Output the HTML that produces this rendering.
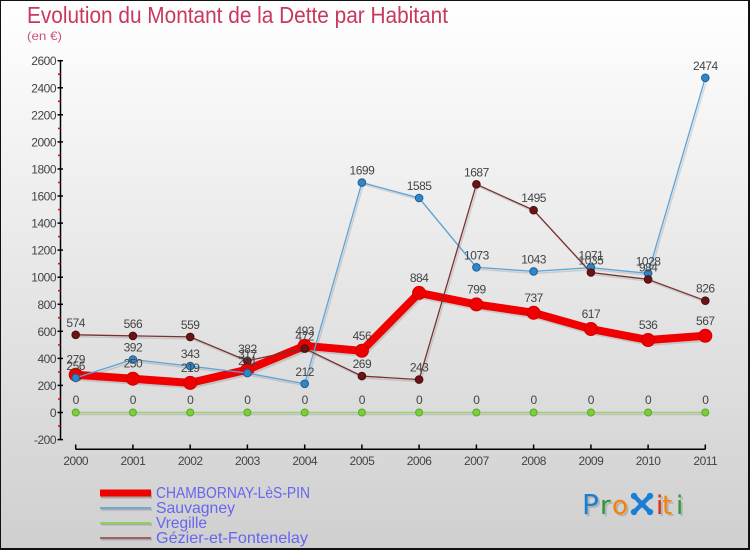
<!DOCTYPE html>
<html><head><meta charset="utf-8"><style>
html,body{margin:0;padding:0;}
body{width:750px;height:550px;overflow:hidden;}
svg{display:block;}
</style></head><body>
<svg width="750" height="550" viewBox="0 0 750 550" xmlns="http://www.w3.org/2000/svg" font-family="'Liberation Sans', sans-serif">
<defs>
<linearGradient id="bg" x1="0" y1="0" x2="0" y2="1">
<stop offset="0" stop-color="#ffffff"/>
<stop offset="1" stop-color="#cfcfcf"/>
</linearGradient>
</defs>
<rect x="0" y="0" width="750" height="550" fill="url(#bg)"/>
<rect x="0.5" y="0.5" width="748" height="548" fill="none" stroke="#111" stroke-width="1"/>
<line x1="749" y1="0" x2="749" y2="550" stroke="#111" stroke-width="2"/>
<line x1="0" y1="549" x2="750" y2="549" stroke="#111" stroke-width="2"/>

<!-- Title -->
<text x="27" y="23" font-size="23" fill="#c8385e" textLength="421" lengthAdjust="spacingAndGlyphs">Evolution du Montant de la Dette par Habitant</text>
<text x="27" y="40" font-size="12" fill="#d0507a" textLength="35" lengthAdjust="spacingAndGlyphs">(en €)</text>

<!-- Y axis -->
<g stroke="#000" stroke-width="1.5">
<line x1="60.5" y1="60" x2="60.5" y2="440"/>
<line x1="57.5" y1="60.7" x2="63" y2="60.7"/>
<line x1="57.5" y1="87.8" x2="63" y2="87.8"/>
<line x1="57.5" y1="114.8" x2="63" y2="114.8"/>
<line x1="57.5" y1="141.9" x2="63" y2="141.9"/>
<line x1="57.5" y1="169" x2="63" y2="169"/>
<line x1="57.5" y1="196" x2="63" y2="196"/>
<line x1="57.5" y1="223.1" x2="63" y2="223.1"/>
<line x1="57.5" y1="250.1" x2="63" y2="250.1"/>
<line x1="57.5" y1="277.2" x2="63" y2="277.2"/>
<line x1="57.5" y1="304.3" x2="63" y2="304.3"/>
<line x1="57.5" y1="331.3" x2="63" y2="331.3"/>
<line x1="57.5" y1="358.4" x2="63" y2="358.4"/>
<line x1="57.5" y1="385.4" x2="63" y2="385.4"/>
<line x1="57.5" y1="412.5" x2="63" y2="412.5"/>
<line x1="57.5" y1="439.6" x2="63" y2="439.6"/>
</g>
<g stroke="#e00" stroke-width="1.5">
<line x1="58" y1="74.2" x2="60.5" y2="74.2"/>
<line x1="58" y1="101.3" x2="60.5" y2="101.3"/>
<line x1="58" y1="128.4" x2="60.5" y2="128.4"/>
<line x1="58" y1="155.4" x2="60.5" y2="155.4"/>
<line x1="58" y1="182.5" x2="60.5" y2="182.5"/>
<line x1="58" y1="209.6" x2="60.5" y2="209.6"/>
<line x1="58" y1="236.6" x2="60.5" y2="236.6"/>
<line x1="58" y1="263.7" x2="60.5" y2="263.7"/>
<line x1="58" y1="290.7" x2="60.5" y2="290.7"/>
<line x1="58" y1="317.8" x2="60.5" y2="317.8"/>
<line x1="58" y1="344.9" x2="60.5" y2="344.9"/>
<line x1="58" y1="371.9" x2="60.5" y2="371.9"/>
<line x1="58" y1="399" x2="60.5" y2="399"/>
<line x1="58" y1="426" x2="60.5" y2="426"/>
</g>
<g font-size="12" fill="#444" text-anchor="end" letter-spacing="-0.5">
<text x="56" y="65.2">2600</text>
<text x="56" y="92.3">2400</text>
<text x="56" y="119.3">2200</text>
<text x="56" y="146.4">2000</text>
<text x="56" y="173.5">1800</text>
<text x="56" y="200.5">1600</text>
<text x="56" y="227.6">1400</text>
<text x="56" y="254.6">1200</text>
<text x="56" y="281.7">1000</text>
<text x="56" y="308.8">800</text>
<text x="56" y="335.8">600</text>
<text x="56" y="362.9">400</text>
<text x="56" y="389.9">200</text>
<text x="56" y="417">0</text>
<text x="56" y="444.1">-200</text>
</g>

<!-- X axis -->
<g stroke="#000" stroke-width="1.5">
<line x1="75.7" y1="449.3" x2="705.3" y2="449.3"/>
<line x1="75.7" y1="444.5" x2="75.7" y2="449.3"/>
<line x1="132.9" y1="444.5" x2="132.9" y2="449.3"/>
<line x1="190.2" y1="444.5" x2="190.2" y2="449.3"/>
<line x1="247.4" y1="444.5" x2="247.4" y2="449.3"/>
<line x1="304.7" y1="444.5" x2="304.7" y2="449.3"/>
<line x1="361.9" y1="444.5" x2="361.9" y2="449.3"/>
<line x1="419.1" y1="444.5" x2="419.1" y2="449.3"/>
<line x1="476.4" y1="444.5" x2="476.4" y2="449.3"/>
<line x1="533.6" y1="444.5" x2="533.6" y2="449.3"/>
<line x1="590.9" y1="444.5" x2="590.9" y2="449.3"/>
<line x1="648.1" y1="444.5" x2="648.1" y2="449.3"/>
<line x1="705.3" y1="444.5" x2="705.3" y2="449.3"/>
</g>
<g font-size="12" fill="#444" text-anchor="middle" letter-spacing="-0.5">
<text x="75.7" y="465">2000</text>
<text x="132.9" y="465">2001</text>
<text x="190.2" y="465">2002</text>
<text x="247.4" y="465">2003</text>
<text x="304.7" y="465">2004</text>
<text x="361.9" y="465">2005</text>
<text x="419.1" y="465">2006</text>
<text x="476.4" y="465">2007</text>
<text x="533.6" y="465">2008</text>
<text x="590.9" y="465">2009</text>
<text x="648.1" y="465">2010</text>
<text x="705.3" y="465">2011</text>
</g>

<!-- shadows -->
<g fill="none" stroke="#000" stroke-opacity="0.12" stroke-linejoin="round" transform="translate(1.5,2)">
<polyline stroke-width="8" points="75.7,374.7 132.9,378.7 190.2,382.9 247.4,369.6 304.7,345.8 361.9,350.8 419.1,292.9 476.4,304.4 533.6,312.8 590.9,329 648.1,340 705.3,335.8"/>
<polyline stroke-width="1.5" points="75.7,377.9 132.9,359.5 190.2,366.1 247.4,373.1 304.7,383.8 361.9,182.6 419.1,198 476.4,267.3 533.6,271.4 590.9,267.6 648.1,273.4 705.3,77.8"/>
<polyline stroke-width="1.5" points="75.7,334.8 132.9,335.9 190.2,336.9 247.4,360.8 304.7,348.6 361.9,376.1 419.1,379.6 476.4,184.3 533.6,210.2 590.9,272.5 648.1,279.4 705.3,300.7"/>
<polyline stroke-width="1.5" points="75.7,412.5 705.3,412.5"/>
</g>

<!-- CHAMBORNAY -->
<polyline fill="none" stroke="#f00000" stroke-width="8" stroke-linejoin="round" points="75.7,374.7 132.9,378.7 190.2,382.9 247.4,369.6 304.7,345.8 361.9,350.8 419.1,292.9 476.4,304.4 533.6,312.8 590.9,329 648.1,340 705.3,335.8"/>
<g fill="#ee0000" stroke="#d00000" stroke-width="1">
<circle cx="75.7" cy="374.7" r="6.5"/><circle cx="132.9" cy="378.7" r="6.5"/><circle cx="190.2" cy="382.9" r="6.5"/><circle cx="247.4" cy="369.6" r="6.5"/><circle cx="304.7" cy="345.8" r="6.5"/><circle cx="361.9" cy="350.8" r="6.5"/><circle cx="419.1" cy="292.9" r="6.5"/><circle cx="476.4" cy="304.4" r="6.5"/><circle cx="533.6" cy="312.8" r="6.5"/><circle cx="590.9" cy="329" r="6.5"/><circle cx="648.1" cy="340" r="6.5"/><circle cx="705.3" cy="335.8" r="6.5"/>
</g>

<!-- Vregille -->
<line x1="75.7" y1="412.5" x2="705.3" y2="412.5" stroke="#99d070" stroke-width="1.5"/>
<g fill="#7ccf3a" stroke="#5aa82a" stroke-width="1">
<circle cx="75.7" cy="412.5" r="3.5"/><circle cx="132.9" cy="412.5" r="3.5"/><circle cx="190.2" cy="412.5" r="3.5"/><circle cx="247.4" cy="412.5" r="3.5"/><circle cx="304.7" cy="412.5" r="3.5"/><circle cx="361.9" cy="412.5" r="3.5"/><circle cx="419.1" cy="412.5" r="3.5"/><circle cx="476.4" cy="412.5" r="3.5"/><circle cx="533.6" cy="412.5" r="3.5"/><circle cx="590.9" cy="412.5" r="3.5"/><circle cx="648.1" cy="412.5" r="3.5"/><circle cx="705.3" cy="412.5" r="3.5"/>
</g>

<!-- Sauvagney -->
<polyline fill="none" stroke="#5ba3d9" stroke-width="1.3" points="75.7,377.9 132.9,359.5 190.2,366.1 247.4,373.1 304.7,383.8 361.9,182.6 419.1,198 476.4,267.3 533.6,271.4 590.9,267.6 648.1,273.4 705.3,77.8"/>
<g fill="#2f86c8" stroke="#1e5f96" stroke-width="1">
<circle cx="75.7" cy="377.9" r="3.8"/><circle cx="132.9" cy="359.5" r="3.8"/><circle cx="190.2" cy="366.1" r="3.8"/><circle cx="247.4" cy="373.1" r="3.8"/><circle cx="304.7" cy="383.8" r="3.8"/><circle cx="361.9" cy="182.6" r="3.8"/><circle cx="419.1" cy="198" r="3.8"/><circle cx="476.4" cy="267.3" r="3.8"/><circle cx="533.6" cy="271.4" r="3.8"/><circle cx="590.9" cy="267.6" r="3.8"/><circle cx="648.1" cy="273.4" r="3.8"/><circle cx="705.3" cy="77.8" r="3.8"/>
</g>

<!-- Gezier -->
<polyline fill="none" stroke="#7b3030" stroke-width="1.3" points="75.7,334.8 132.9,335.9 190.2,336.9 247.4,360.8 304.7,348.6 361.9,376.1 419.1,379.6 476.4,184.3 533.6,210.2 590.9,272.5 648.1,279.4 705.3,300.7"/>
<g fill="#6a1515" stroke="#4a0d0d" stroke-width="1">
<circle cx="75.7" cy="334.8" r="3.8"/><circle cx="132.9" cy="335.9" r="3.8"/><circle cx="190.2" cy="336.9" r="3.8"/><circle cx="247.4" cy="360.8" r="3.8"/><circle cx="304.7" cy="348.6" r="3.8"/><circle cx="361.9" cy="376.1" r="3.8"/><circle cx="419.1" cy="379.6" r="3.8"/><circle cx="476.4" cy="184.3" r="3.8"/><circle cx="533.6" cy="210.2" r="3.8"/><circle cx="590.9" cy="272.5" r="3.8"/><circle cx="648.1" cy="279.4" r="3.8"/><circle cx="705.3" cy="300.7" r="3.8"/>
</g>

<!-- data labels -->
<g font-size="12" fill="#444" text-anchor="middle" letter-spacing="-0.5">
<text x="75.7" y="363.7">279</text><text x="132.9" y="367.7">250</text><text x="190.2" y="371.9">219</text><text x="247.4" y="358.6">317</text><text x="304.7" y="334.8">493</text><text x="361.9" y="339.8">456</text><text x="419.1" y="281.9">884</text><text x="476.4" y="293.4">799</text><text x="533.6" y="301.8">737</text><text x="590.9" y="318">617</text><text x="648.1" y="329">536</text><text x="705.3" y="324.8">567</text>
<text x="75.7" y="369.9">256</text><text x="132.9" y="351.5">392</text><text x="190.2" y="358.1">343</text><text x="247.4" y="365.1">291</text><text x="304.7" y="375.8">212</text><text x="361.9" y="174.6">1699</text><text x="419.1" y="190">1585</text><text x="476.4" y="259.3">1073</text><text x="533.6" y="263.4">1043</text><text x="590.9" y="259.6">1071</text><text x="648.1" y="265.4">1028</text><text x="705.3" y="69.8">2474</text>
<text x="75.7" y="326.8">574</text><text x="132.9" y="327.9">566</text><text x="190.2" y="328.9">559</text><text x="247.4" y="352.8">382</text><text x="304.7" y="340.6">472</text><text x="361.9" y="368.1">269</text><text x="419.1" y="371.6">243</text><text x="476.4" y="176.3">1687</text><text x="533.6" y="202.2">1495</text><text x="590.9" y="264.5">1035</text><text x="648.1" y="271.4">984</text><text x="705.3" y="292.7">826</text>
<text x="75.7" y="404">0</text><text x="132.9" y="404">0</text><text x="190.2" y="404">0</text><text x="247.4" y="404">0</text><text x="304.7" y="404">0</text><text x="361.9" y="404">0</text><text x="419.1" y="404">0</text><text x="476.4" y="404">0</text><text x="533.6" y="404">0</text><text x="590.9" y="404">0</text><text x="648.1" y="404">0</text><text x="705.3" y="404">0</text>
</g>

<!-- Legend -->
<g>
<line x1="101" y1="495" x2="152" y2="495" stroke="#000" stroke-opacity="0.2" stroke-width="7"/>
<line x1="100" y1="493" x2="151" y2="493" stroke="#f00000" stroke-width="7"/>
<line x1="101" y1="509.5" x2="152" y2="509.5" stroke="#000" stroke-opacity="0.18" stroke-width="2"/>
<line x1="100" y1="508" x2="151" y2="508" stroke="#6fa8d0" stroke-width="2"/>
<line x1="101" y1="524.5" x2="152" y2="524.5" stroke="#000" stroke-opacity="0.18" stroke-width="2"/>
<line x1="100" y1="523" x2="151" y2="523" stroke="#8fd060" stroke-width="2"/>
<line x1="101" y1="539.5" x2="152" y2="539.5" stroke="#000" stroke-opacity="0.18" stroke-width="2"/>
<line x1="100" y1="538" x2="151" y2="538" stroke="#a06060" stroke-width="2"/>
</g>
<g font-size="16" fill="#6666ee">
<text x="156" y="498" textLength="154" lengthAdjust="spacingAndGlyphs">CHAMBORNAY-LèS-PIN</text>
<text x="156" y="513" textLength="79" lengthAdjust="spacingAndGlyphs">Sauvagney</text>
<text x="156" y="528" textLength="51" lengthAdjust="spacingAndGlyphs">Vregille</text>
<text x="156" y="543" textLength="152" lengthAdjust="spacingAndGlyphs">Gézier-et-Fontenelay</text>
</g>

<!-- Proxiti logo -->
<g font-size="26" font-family="'DejaVu Sans', sans-serif">
<g fill="#000" fill-opacity="0.15" transform="translate(2,2)">
<text x="582" y="514" font-size="28">P</text>
<text x="600" y="514">r</text><text x="612" y="514">o</text>
<text x="656" y="514">i</text><text x="662" y="514">t</text><text x="676" y="514">i</text>
</g>
<text x="582" y="514" font-size="28" fill="#1a7fd4">P</text>
<text x="600" y="514" fill="#2a9a3a">r</text>
<text x="612" y="514" fill="#f5820a">o</text>
<text x="656" y="514" fill="#e02a1a">i</text>
<text x="662" y="514" fill="#f5820a">t</text>
<text x="676" y="514" fill="#2a9a3a">i</text>
</g>
<g stroke="#1a7fd4" stroke-width="4.5" stroke-linecap="round">
<line x1="635" y1="497" x2="649" y2="511"/>
<line x1="649" y1="497" x2="635" y2="511"/>
</g>
<g fill="#1a7fd4">
<circle cx="634" cy="496" r="3.2"/><circle cx="650" cy="496" r="3.2"/><circle cx="634" cy="512" r="3.2"/><circle cx="650" cy="512" r="3.2"/><circle cx="642" cy="504" r="3.5"/>
</g>
</svg>
</body></html>
